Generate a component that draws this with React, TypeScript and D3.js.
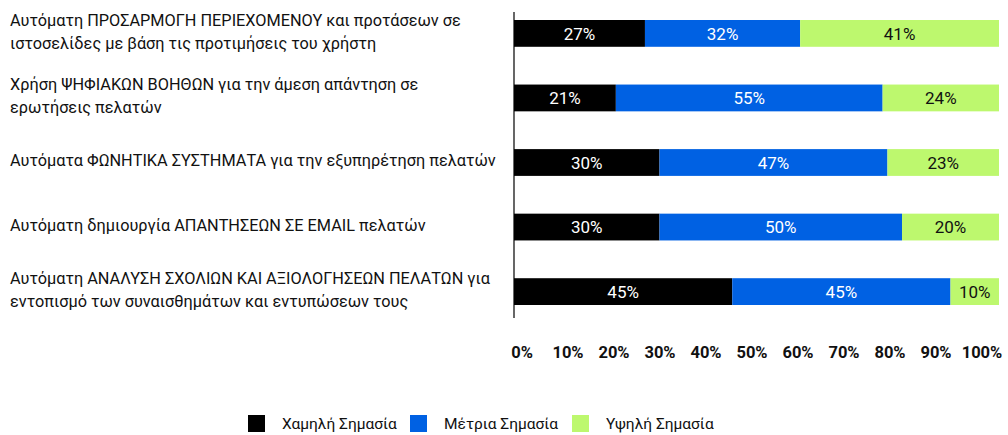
import React from "react";
import * as d3 from "d3";

const categories: string[][] = [
  ["Αυτόματη ΠΡΟΣΑΡΜΟΓΗ ΠΕΡΙΕΧΟΜΕΝΟΥ και προτάσεων σε", "ιστοσελίδες με βάση τις προτιμήσεις του χρήστη"],
  ["Χρήση ΨΗΦΙΑΚΩΝ ΒΟΗΘΩΝ για την άμεση απάντηση σε", "ερωτήσεις πελατών"],
  ["Αυτόματα ΦΩΝΗΤΙΚΑ ΣΥΣΤΗΜΑΤΑ για την εξυπηρέτηση πελατών"],
  ["Αυτόματη δημιουργία ΑΠΑΝΤΗΣΕΩΝ ΣΕ EMAIL πελατών"],
  ["Αυτόματη ΑΝΑΛΥΣΗ ΣΧΟΛΙΩΝ ΚΑΙ ΑΞΙΟΛΟΓΗΣΕΩΝ ΠΕΛΑΤΩΝ για", "εντοπισμό των συναισθημάτων και εντυπώσεων τους"],
];
const low = [27, 21, 30, 30, 45];
const medium = [32, 55, 47, 50, 45];
const high = [41, 24, 23, 20, 10];
const seriesNames = ["Χαμηλή Σημασία", "Μέτρια Σημασία", "Υψηλή Σημασία"];
const tickValues = [0, 10, 20, 30, 40, 50, 60, 70, 80, 90, 100];

const colors = ["#000000", "#0061E3", "#BDF86E"];
const textColors = ["#ffffff", "#ffffff", "#111111"];
const FONT = "Roboto, 'Noto Sans', sans-serif";

export default function App() {
  const W = 1008, H = 435;
  const x = d3.scaleLinear().domain([0, 100]).range([514, 999]);
  const xLabel = d3.scaleLinear().domain([0, 100]).range([522, 982]);
  const idx = categories.map((_, i) => String(i));
  const y = d3.scaleBand().domain(idx).range([20, 305]).paddingInner(0.585).paddingOuter(0);
  const rows = categories.map((c, i) => ({ key: String(i), vals: [low[i], medium[i], high[i]] }));
  const stack = d3.stack<any>().keys(["0", "1", "2"]).value((d, k) => d.vals[+k]);
  const stacked = stack(rows);
  const legendX = [248, 410, 572];

  return (
    <svg width={W} height={H} style={{ position: "absolute", left: 0, top: 0 }} fontFamily={FONT}>
      {stacked.map((s, si) =>
        s.map((d, i) => {
          const x0 = x(d[0]), x1 = x(d[1]);
          const yy = y(String(i))!;
          return (
            <g key={si + "-" + i}>
              <rect x={x0} y={yy} width={x1 - x0} height={y.bandwidth()} fill={colors[si]} />
              <text x={(x0 + x1) / 2} y={yy + y.bandwidth() / 2} dy="0.36em" textAnchor="middle"
                fontSize={17} fill={textColors[si]}>{d[1] - d[0]}%</text>
            </g>
          );
        })
      )}
      <line x1={514} x2={514} y1={12} y2={318} stroke="#000" strokeWidth={1.2} />
      {categories.map((lines, i) => {
        const cy = y(String(i))! + y.bandwidth() / 2 - 2;
        const lh = 23;
        const start = cy - ((lines.length - 1) * lh) / 2;
        return (
          <text key={i} x={10} fontSize={16.3} fill="#111">
            {lines.map((l, j) => (
              <tspan key={j} x={10} y={start + j * lh} dy="0.36em">{l}</tspan>
            ))}
          </text>
        );
      })}
      {tickValues.map((t) => (
        <text key={t} x={xLabel(t)} y={352} dy="0.36em" textAnchor="middle" fontSize={16.5}
          fontWeight="bold" fill="#111">{t}%</text>
      ))}
      {seriesNames.map((n, i) => (
        <g key={n}>
          <rect x={legendX[i]} y={415} width={17} height={17} fill={colors[i]} />
          <text x={legendX[i] + 34} y={423.5} dy="0.36em" fontSize={15.5} fill="#111">{n}</text>
        </g>
      ))}
    </svg>
  );
}
